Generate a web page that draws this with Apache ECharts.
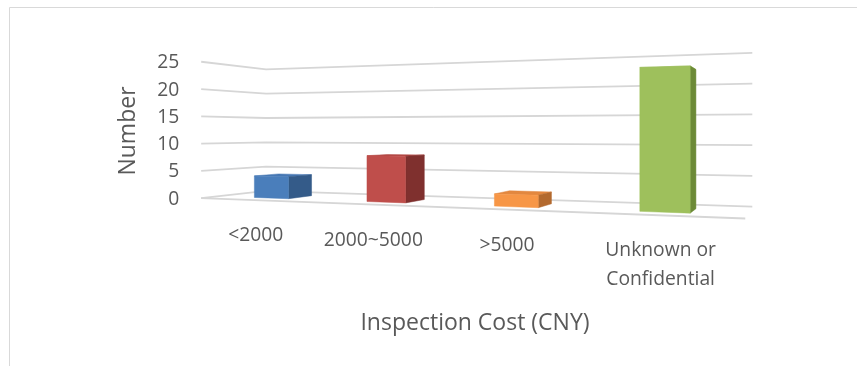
<!DOCTYPE html>
<html>
<head>
<meta charset="utf-8">
<script src="https://cdn.jsdelivr.net/npm/echarts@6/dist/echarts.min.js"></script>
<style>
  html, body { margin: 0; padding: 0; background: #ffffff; }
  #chart { width: 857px; height: 366px; }
</style>
</head>
<body>
<div id="chart"></div>
<script>
// ---- data ----
const categories = ['<2000', '2000~5000', '>5000', 'Unknown or\nConfidential'];
const counts = [4, 8, 2, 22];
const yTicks = [0, 5, 10, 15, 20, 25];
const xTitle = 'Inspection Cost (CNY)';
const yTitle = 'Number';

// ---- styling ----
const palette = [
  { front: '#4a7ebb', side: '#345b89', top: '#4677b3' },
  { front: '#bf4e4b', side: '#7f302e', top: '#b04643' },
  { front: '#f79646', side: '#b3692e', top: '#e2873f' },
  { front: '#9ec05c', side: '#6c8a37', top: '#93b352' }
];
const TEXT = '#595959';
const GRID_LINE = '#d6d6d6';
const FONT = '"Open Sans", "Liberation Sans", sans-serif';
const LABEL_FONT = '19.3px ' + FONT;

// ---- 3-D view: a pinhole camera looking at the plot box ----
const DEG = Math.PI / 180;
const camera = { f: 809, cx: 476, cy: 132, yaw: 21.6 * DEG, eye: [4.056, 0.485, 5.552] };
const box = { w: 3.79, h: 1, d: 0.78 };        // category run, value run, depth (world units)
const bar = { widthShare: 0.316, front: 0.75, back: 0.365 }; // share of band, depth fractions

// u: along categories (0..1), v: value fraction (0..1), w: depth (0 = back wall, 1 = front)
function project(u, v, w) {
  const X = u * box.w - camera.eye[0];
  const Y = v * box.h - camera.eye[1];
  const Z = w * box.d - camera.eye[2];
  const c = Math.cos(camera.yaw), s = Math.sin(camera.yaw);
  const xc = X * c - Z * s;
  const zc = -X * s - Z * c;
  return [camera.cx + camera.f * xc / zc, camera.cy - camera.f * Y / zc];
}

// pixel position on the flat helper grid -> unit position in the box
function toUnit(params, api, cat, val) {
  const p = api.coord([cat, val]);
  const cs = params.coordSys;
  return [(p[0] - cs.x) / cs.width, (cs.y + cs.height - p[1]) / cs.height];
}

function renderGrid(params, api) {
  const t = api.value(1);
  const v = toUnit(params, api, 0, t)[1];
  const children = [{
    type: 'polyline',
    shape: { points: [project(0, v, 1), project(0, v, 0), project(1, v, 0)] },
    style: { stroke: GRID_LINE, lineWidth: 1.8, fill: null }
  }];
  if (t === yTicks[0]) {
    children.push({
      type: 'polyline',
      shape: { points: [project(0, v, 1), project(1, v, 1)] },
      style: { stroke: GRID_LINE, lineWidth: 1.8, fill: null }
    });
  }
  const lp = project(0, v, 1);
  children.push({
    type: 'text',
    x: lp[0] - 22, y: lp[1] + 1,
    style: { text: String(t), fill: TEXT, font: LABEL_FONT, align: 'right', verticalAlign: 'middle' }
  });
  return { type: 'group', children: children };
}

function renderBar(params, api) {
  const i = api.value(0);
  const val = api.value(1);
  const cs = params.coordSys;
  const uc = toUnit(params, api, i, 0)[0];
  const vTop = toUnit(params, api, i, val)[1];
  const half = 0.5 * bar.widthShare * api.size([1, 0])[0] / cs.width;
  const u0 = uc - half, u1 = uc + half;
  const wf = bar.front, wb = bar.back;
  const col = palette[i % palette.length];
  const face = (pts, fill) => ({
    type: 'polygon', shape: { points: pts },
    style: { fill: fill, stroke: fill, lineWidth: 0.5 }
  });
  const children = [
    face([project(u0, vTop, wf), project(u1, vTop, wf), project(u1, vTop, wb), project(u0, vTop, wb)], col.top),
    face([project(u1, 0, wf), project(u1, 0, wb), project(u1, vTop, wb), project(u1, vTop, wf)], col.side),
    face([project(u0, 0, wf), project(u1, 0, wf), project(u1, vTop, wf), project(u0, vTop, wf)], col.front)
  ];
  const lp = project(uc, 0, 1);
  children.push({
    type: 'text',
    x: lp[0] + 1, y: lp[1] + 21,
    style: {
      text: categories[i], fill: TEXT, font: LABEL_FONT,
      align: 'center', verticalAlign: 'top', lineHeight: 29
    }
  });
  return { type: 'group', children: children };
}

const chart = echarts.init(document.getElementById('chart'), null, { renderer: 'canvas' });
chart.setOption({
  animation: false,
  backgroundColor: '#ffffff',
  grid: { left: 200, right: 100, top: 60, bottom: 150, show: false },
  xAxis: { type: 'category', data: categories, show: false },
  yAxis: { type: 'value', min: yTicks[0], max: yTicks[yTicks.length - 1], interval: 5, show: false },
  graphic: [
    {
      type: 'rect', silent: true,
      shape: { x: 9.5, y: 7.5, width: 1000, height: 500 },
      style: { fill: 'none', stroke: '#d9d9d9', lineWidth: 1 }
    },
    {
      type: 'text', x: 128, y: 131, rotation: Math.PI / 2,
      style: { text: yTitle, fill: TEXT, font: '23px ' + FONT, align: 'center', verticalAlign: 'middle' }
    },
    {
      type: 'text', x: 475, y: 323,
      style: { text: xTitle, fill: TEXT, font: '23px ' + FONT, align: 'center', verticalAlign: 'middle' }
    }
  ],
  series: [
    {
      type: 'custom', coordinateSystem: 'cartesian2d', clip: false, silent: true, z: 1,
      renderItem: renderGrid,
      data: yTicks.map(t => [0, t])
    },
    {
      type: 'custom', coordinateSystem: 'cartesian2d', clip: false, silent: true, z: 2,
      renderItem: renderBar,
      data: counts.map((c, i) => [i, c])
    }
  ]
});
</script>
</body>
</html>
